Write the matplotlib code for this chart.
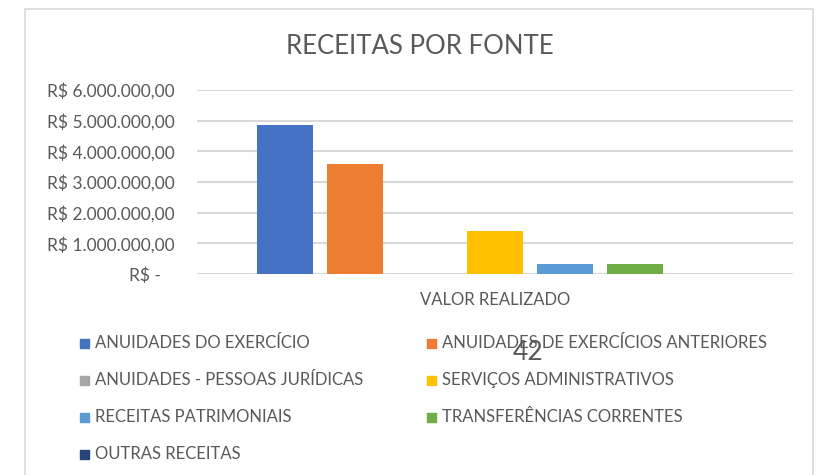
import matplotlib.pyplot as plt
from matplotlib.patches import Rectangle
from matplotlib.ticker import FuncFormatter

plt.rcParams['font.family'] = ['Lato', 'DejaVu Sans']

fontes = [
    "ANUIDADES DO EXERCÍCIO",
    "ANUIDADES DE EXERCÍCIOS ANTERIORES",
    "ANUIDADES - PESSOAS JURÍDICAS",
    "SERVIÇOS ADMINISTRATIVOS",
    "RECEITAS PATRIMONIAIS",
    "TRANSFERÊNCIAS CORRENTES",
    "OUTRAS RECEITAS",
]
valores = [4860000, 3580000, 0, 1400000, 310000, 310000, 0]
cores = ["#4472C4", "#ED7D31", "#A5A5A5", "#FFC000", "#5B9BD5", "#70AD47", "#264478"]
categoria = "VALOR REALIZADO"
yticks = [0, 1000000, 2000000, 3000000, 4000000, 5000000, 6000000]

texto = "#595959"
W, H = 819, 475


def reais(v, pos=None):
    if v == 0:
        return "R$ -   "
    s = f"{v:,.2f}".replace(",", "X").replace(".", ",").replace("X", ".")
    return "R$ " + s


fig = plt.figure(figsize=(W / 100, H / 100), dpi=100)

# moldura do gráfico
fig.patches.append(Rectangle((25 / W, -0.05), (813 - 25) / W, 1.05 - 9 / H,
                             transform=fig.transFigure, fill=False,
                             edgecolor="#D9D9D9", linewidth=1.2))

ax = fig.add_axes([197 / W, 1 - 274 / H, (793 - 197) / W, (274 - 90) / H])
n = len(valores)
largura = 0.786
xs = [i for i in range(n)]
ax.bar(xs, valores, width=largura, color=cores, zorder=3)

ax.set_xlim(-1.257, n - 1 + 1.257)
ax.set_ylim(0, 6000000)
ax.set_yticks(yticks)
ax.yaxis.set_major_formatter(FuncFormatter(reais))
ax.set_xticks([(n - 1) / 2])
ax.set_xticklabels([categoria])
ax.tick_params(axis="both", length=0, colors=texto, labelsize=12)
ax.tick_params(axis="y", pad=16, labelsize=12.5)
ax.tick_params(axis="x", pad=13)
ax.grid(axis="y", color="#D9D9D9", linewidth=1.5, zorder=0)
for s in ax.spines.values():
    s.set_visible(False)

fig.text(420 / W, 1 - 47 / H, "RECEITAS POR FONTE", ha="center", va="center",
         fontsize=18.5, color=texto)

# legenda em duas colunas
col_x = [80, 427]
lin_y = [343, 380, 417, 454]
for i, (nome, cor) in enumerate(zip(fontes, cores)):
    x0 = col_x[i % 2]
    y0 = lin_y[i // 2]
    fig.patches.append(Rectangle((x0 / W, 1 - (y0 + 4.5) / H), 9 / W, 9 / H,
                                 transform=fig.transFigure, color=cor))
    fig.text((x0 + 15) / W, 1 - y0 / H, nome, ha="left", va="center",
             fontsize=12, color=texto)

fig.text(528 / W, 1 - 352 / H, "42", ha="center", va="center",
         fontsize=19, color=texto)

fig.savefig("out.png", dpi=100)
